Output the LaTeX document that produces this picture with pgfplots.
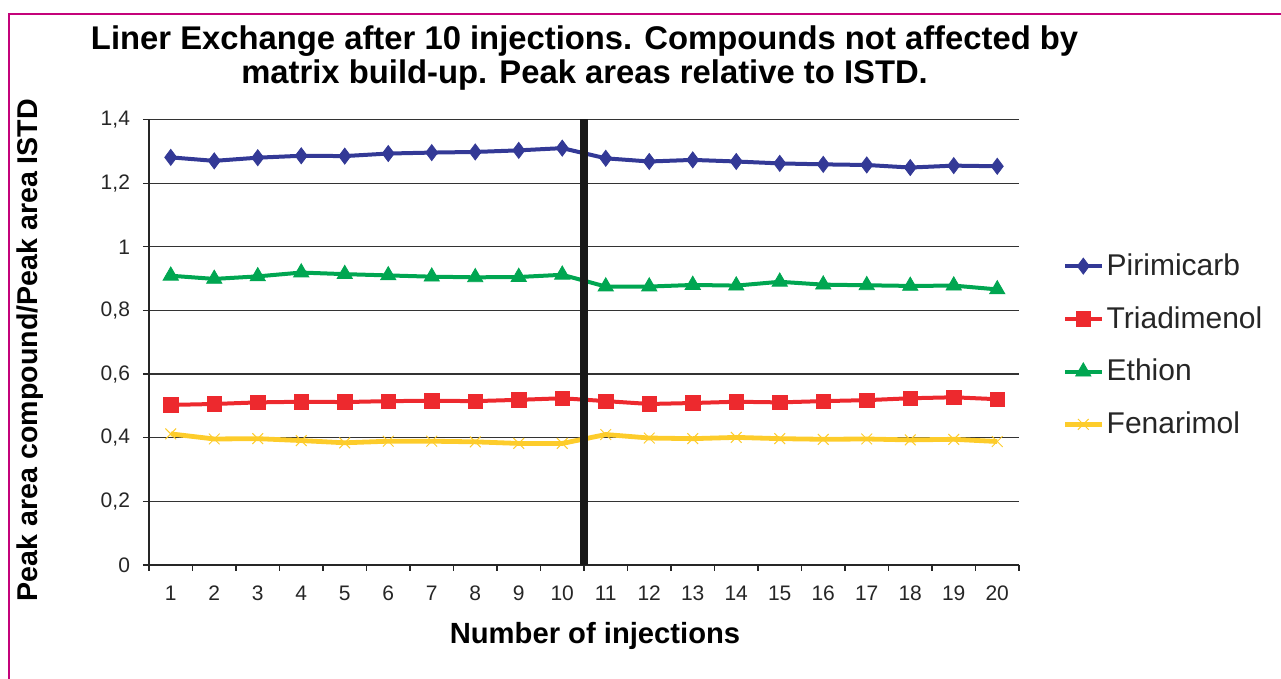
\documentclass[border=0pt]{standalone}
\usepackage{fontspec}
\setmainfont{Liberation Sans}
\usepackage{pgfplots}
\pgfplotsset{compat=1.18}
\definecolor{piri}{RGB}{51,57,150}
\definecolor{triad}{RGB}{237,41,46}
\definecolor{ethion}{RGB}{0,166,81}
\definecolor{fena}{RGB}{253,204,43}
\definecolor{frame}{RGB}{196,3,122}
\begin{document}
\begin{tikzpicture}[x=1pt,y=1pt]
\useasboundingbox (0,0) rectangle (640.5,339.5);
\draw[frame, line width=1.2pt] (4.6,0) -- (4.6,332.4) -- (640.5,332.4);
\node[font=\fontsize{16.4}{17}\selectfont\bfseries, align=center] at (292.3,310.6)
  {Liner Exchange after 10 injections. Compounds not affected by\\matrix build-up. Peak areas relative to ISTD.};
\node[font=\fontsize{14.6}{16}\selectfont\bfseries] at (297.5,21.5) {Number of injections};
\node[font=\fontsize{14.3}{16}\selectfont\bfseries, rotate=90] at (15,164.5) {Peak area compound/Peak area ISTD};
\begin{axis}[
  at={(74.5pt,57pt)}, anchor=south west,
  scale only axis, width=435pt, height=222.75pt,
  xmin=0.5, xmax=20.5, ymin=0, ymax=1.4,
  axis x line*=bottom, axis y line*=left,
  axis line style={black!85, line width=0.6pt},
  xtick={1,...,20},
  /pgf/number format/assume math mode=true,
  major x tick style={draw=none},
  minor xtick={0.5,1.5,...,20.5},
  minor tick length=3pt,
  minor x tick style={black!85, line width=0.6pt},
  ytick={0,0.2,0.4,0.6,0.8,1,1.2,1.4},
  yticklabels={0,{0,2},{0,4},{0,6},{0,8},1,{1,2},{1,4}},
  major tick length=3pt,
  tick align=outside,
  ytick style={black!85, line width=0.6pt},
  ymajorgrids,
  grid style={black!80, line width=0.6pt},
  tick label style={font=\fontsize{10.5}{12}\selectfont, text=black!85},
  xticklabel style={yshift=-4pt},
  yticklabel style={xshift=-3pt},
  legend style={at={(1.05,0.704)}, anchor=north west, draw=none, fill=none,
    font=\fontsize{15}{17}\selectfont, text=black!85, row sep=12pt,
    inner sep=0pt, nodes={inner sep=1pt}},
  legend cell align=left,
  legend image code/.code={
    \draw[mark repeat=2, mark phase=2] plot coordinates {(0pt,0pt) (9pt,0pt) (18.5pt,0pt)};},
  clip=false,
]
\addplot[piri, line width=2pt, mark=diamond*, mark size=4pt, mark options={solid, line width=0.4pt}] coordinates {
(1,1.281) (2,1.270) (3,1.280) (4,1.286) (5,1.285) (6,1.293) (7,1.296) (8,1.298) (9,1.303) (10,1.310)
(11,1.278) (12,1.268) (13,1.273) (14,1.268) (15,1.262) (16,1.259) (17,1.257) (18,1.249) (19,1.255) (20,1.253)};
\addlegendentry{Pirimicarb}
\addplot[triad, line width=2pt, mark=square*, mark size=3.6pt, mark options={solid, line width=0.4pt}] coordinates {
(1,0.503) (2,0.506) (3,0.511) (4,0.513) (5,0.512) (6,0.515) (7,0.516) (8,0.515) (9,0.519) (10,0.524)
(11,0.515) (12,0.506) (13,0.509) (14,0.513) (15,0.511) (16,0.515) (17,0.518) (18,0.524) (19,0.527) (20,0.521)};
\addlegendentry{Triadimenol}
\addplot[ethion, line width=2pt, mark=triangle*, mark size=4.4pt, mark options={solid, line width=0.4pt}] coordinates {
(1,0.909) (2,0.899) (3,0.907) (4,0.919) (5,0.914) (6,0.910) (7,0.906) (8,0.904) (9,0.905) (10,0.912)
(11,0.875) (12,0.875) (13,0.880) (14,0.878) (15,0.890) (16,0.881) (17,0.879) (18,0.877) (19,0.878) (20,0.866)};
\addlegendentry{Ethion}
\addplot[fena, line width=2.4pt, mark=x, mark size=3.8pt, mark options={solid, line width=0.5pt}] coordinates {
(1,0.412) (2,0.396) (3,0.397) (4,0.391) (5,0.384) (6,0.389) (7,0.389) (8,0.387) (9,0.382) (10,0.382)
(11,0.410) (12,0.399) (13,0.397) (14,0.401) (15,0.397) (16,0.395) (17,0.396) (18,0.393) (19,0.395) (20,0.388)};
\addlegendentry{Fenarimol}
\addplot[black!90, line width=3.6pt, forget plot] coordinates {(10.5,0) (10.5,1.4)};
\end{axis}
\end{tikzpicture}
\end{document}
